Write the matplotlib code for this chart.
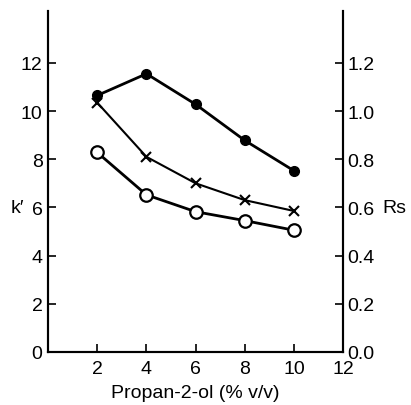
import numpy as np
import matplotlib.pyplot as plt

plt.rcParams['font.family'] = ['Liberation Sans', 'DejaVu Sans']

# propan-2-ol content (% v/v)
conc = [2, 4, 6, 8, 10]

k_filled = [10.65, 11.55, 10.28, 8.78, 7.52]
k_open = [8.28, 6.52, 5.82, 5.45, 5.05]
# resolution, right scale
rs_cross = [1.035, 0.81, 0.70, 0.63, 0.585]

xticks = [2, 4, 6, 8, 10, 12]
kticks = [0, 2, 4, 6, 8, 10, 12]
rsticks = [0.0, 0.2, 0.4, 0.6, 0.8, 1.0, 1.2]

fig = plt.figure(figsize=(4.11, 4.06), dpi=100)
ax = fig.add_axes([0.117, 0.131, 0.718, 0.839])
ax2 = ax.twinx()

ax.plot(conc, k_filled, '-o', color='black', lw=2, ms=7, mfc='black', zorder=3)
ax.plot(conc, k_open, '-o', color='black', lw=2, ms=9, mfc='white', mew=1.6, zorder=3)
ax2.plot(conc, rs_cross, '-x', color='black', lw=1.5, ms=7, mew=1.5, zorder=3)

ax.set_xlim(0, 12)
ax.set_ylim(0, 14.15)
ax2.set_ylim(0, 1.415)

ax.set_xticks(xticks)
ax.set_yticks(kticks)
ax2.set_yticks(rsticks)
ax2.set_yticklabels(['%.1f' % v for v in rsticks])

for a in (ax, ax2):
    a.spines['top'].set_visible(False)
    for s in a.spines.values():
        s.set_linewidth(1.5)

ax.tick_params(axis='both', direction='in', length=6, width=1.2, labelsize=14, pad=6)
ax.tick_params(axis='y', pad=4)
ax2.tick_params(axis='y', direction='in', length=6, width=1.2, labelsize=14, pad=3)

ax.set_xlabel('Propan-2-ol (% v/v)', fontsize=14, labelpad=5)
ax.set_ylabel("k\u2032", fontsize=14, rotation=0, va='center', ha='center')
ax2.set_ylabel('Rs', fontsize=14, rotation=0, va='center', ha='center')
ax.yaxis.set_label_coords(-0.105, 6 / 14.15)
ax2.yaxis.set_label_coords(1.172, 6 / 14.15)

fig.savefig('out.png', dpi=100)
